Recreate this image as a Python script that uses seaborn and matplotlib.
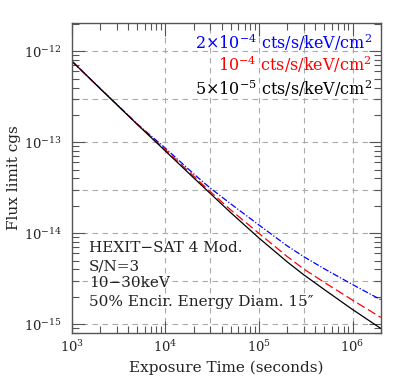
import numpy as np
import pandas as pd
import matplotlib
matplotlib.use("Agg")
import matplotlib.pyplot as plt
import matplotlib.ticker as mticker
import seaborn as sns

# Exposure times (s) and flux limits (cgs)
exposure = [1e3, 2e3, 5e3, 1e4, 2e4, 3e4, 5e4, 1e5, 2e5, 3e5, 5e5, 1e6, 2e6]
flux_2e4 = [7.8e-13, 3.92e-13, 1.59e-13, 8.6e-14, 4.5e-14, 3.15e-14, 2.1e-14,
            1.23e-14, 7.27e-15, 5.54e-15, 4.06e-15, 2.73e-15, 1.86e-15]
flux_1e4 = [7.8e-13, 3.9e-13, 1.58e-13, 8.25e-14, 4.25e-14, 2.88e-14, 1.8e-14,
            9.95e-15, 5.55e-15, 4.05e-15, 2.88e-15, 1.84e-15, 1.19e-15]
flux_5e5 = [7.8e-13, 3.9e-13, 1.57e-13, 8.0e-14, 4.07e-14, 2.75e-14, 1.68e-14,
            8.85e-15, 4.85e-15, 3.5e-15, 2.4e-15, 1.45e-15, 9.0e-16]

series = ["2e-4", "1e-4", "5e-5"]
labels = [r"$2{\times}10^{-4}$ cts/s/keV/cm$^2$",
          r"$10^{-4}$ cts/s/keV/cm$^2$",
          r"$5{\times}10^{-5}$ cts/s/keV/cm$^2$"]
colors = ["blue", "red", "black"]

notes = ["HEXIT\u2212SAT 4 Mod.", "S/N=3", "10\u221230keV",
         "50% Encir. Energy Diam. 15\u2033"]

x_grid = [1e4, 3e4, 1e5, 3e5, 1e6]
y_grid = [1e-12, 3e-13, 1e-13, 3e-14, 1e-14, 3e-15, 1e-15]

df = pd.DataFrame({
    "t": exposure * 3,
    "flux": flux_2e4 + flux_1e4 + flux_5e5,
    "bkg": [series[0]] * len(exposure) + [series[1]] * len(exposure) + [series[2]] * len(exposure),
})

sns.set_style("ticks")
plt.rcParams["font.family"] = ["DejaVu Serif"]
plt.rcParams["mathtext.fontset"] = "dejavuserif"

fig = plt.figure(figsize=(4.06, 3.82), dpi=100)
ax = fig.add_axes([0.177, 0.128, 0.761, 0.812])

for xv in x_grid:
    ax.axvline(xv, color="#aaaaaa", lw=0.8, ls=(0, (5, 4)), zorder=0)
for yv in y_grid:
    ax.axhline(yv, color="#aaaaaa", lw=0.8, ls=(0, (5, 4)), zorder=0)

sns.lineplot(data=df, x="t", y="flux", hue="bkg", style="bkg",
             palette=dict(zip(series, colors)),
             dashes={"2e-4": (5, 1.5, 1, 1.5), "1e-4": (7, 3), "5e-5": ""},
             lw=0.9, legend=False, ax=ax)

ax.set_xscale("log")
ax.set_yscale("log")
ax.set_xlim(1e3, 2e6)
ax.set_ylim(8e-16, 2.05e-12)

ax.xaxis.set_major_locator(mticker.LogLocator(base=10, numticks=10))
ax.yaxis.set_major_locator(mticker.LogLocator(base=10, numticks=10))
ax.xaxis.set_minor_locator(mticker.LogLocator(base=10, subs=np.arange(2, 10), numticks=20))
ax.yaxis.set_minor_locator(mticker.LogLocator(base=10, subs=np.arange(2, 10), numticks=20))
ax.xaxis.set_minor_formatter(mticker.NullFormatter())
ax.yaxis.set_minor_formatter(mticker.NullFormatter())

ax.tick_params(which="both", direction="in", top=True, right=True, colors="#555555",
               labelcolor="#222222", labelsize=9.5)
ax.tick_params(which="major", length=9, width=0.8)
ax.tick_params(which="minor", length=5, width=0.8)
ax.tick_params(axis="x", which="major", pad=4)
ax.tick_params(axis="y", which="major", pad=7)
for s in ax.spines.values():
    s.set_color("#555555")
    s.set_linewidth(1.0)

ax.set_xlabel("Exposure Time (seconds)", fontsize=11, color="#222222", labelpad=4)
ax.set_ylabel("Flux limit cgs", fontsize=11, color="#222222")
ax.yaxis.set_label_coords(-0.165, 0.5)

for lab, c, yy in zip(labels, colors, [0.939, 0.865, 0.787]):
    ax.text(0.971, yy, lab, color=c, fontsize=11.5, ha="right", va="center",
            transform=ax.transAxes)

for note, yy in zip(notes, [0.274, 0.216, 0.161, 0.101]):
    ax.text(0.055, yy, note, color="#222222", fontsize=11, ha="left", va="center",
            transform=ax.transAxes)

fig.savefig("out.png", dpi=100)
